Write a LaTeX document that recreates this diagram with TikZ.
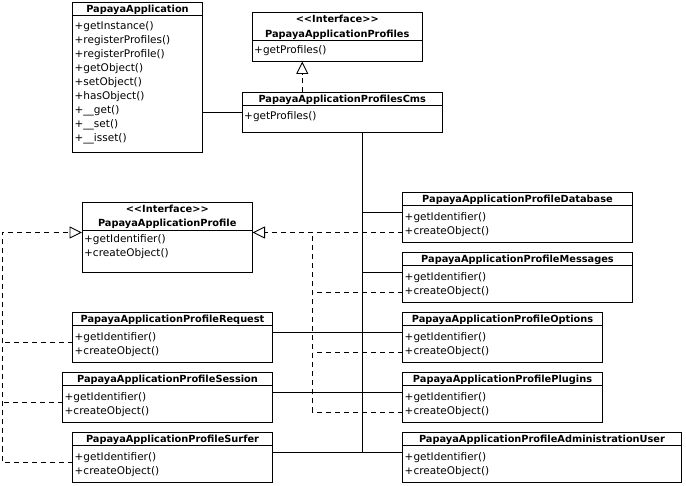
\documentclass[tikz,border=0pt]{standalone}
\usepackage{fontspec}
\setmainfont{DejaVu Sans}
\usetikzlibrary{arrows.meta, positioning, calc}

\begin{document}
\begin{tikzpicture}[
    x=1pt, y=-1pt,
    font=\fontsize{10.5}{14}\selectfont,
    cls/.style={draw=black, line width=0.9pt, anchor=north west, inner sep=0pt, outer sep=0pt},
    title/.style={font=\bfseries\fontsize{9.8}{12}\selectfont, anchor=base, inner sep=0pt},
    ops/.style={anchor=north west, align=left, inner sep=0pt},
    divider/.style={line width=0.9pt},
    assoc/.style={line width=0.9pt},
    realize/.style={line width=0.9pt, dash pattern=on 5pt off 4pt},
    impl/.style={realize, -{Triangle[open, length=12.5pt, width=12pt, line width=0.9pt]}}
  ]
    \useasboundingbox (0,0) rectangle (686,486);

    % Top classes
    \node[cls, minimum width=130pt, minimum height=150pt] (app) at (72.5, 2.5) {};
    \draw[divider] ([yshift=-12.5pt]app.north west) -- ([yshift=-12.5pt]app.north east);
    \node[title] (app-t) at ([yshift=-10pt]app.north) {PapayaApplication};
    \node[ops] (app-o) at ([xshift=2pt, yshift=-19pt]app.north west) {+getInstance()\\+registerProfiles()\\+registerProfile()\\+getObject()\\+setObject()\\+hasObject()\\+\_\_get()\\+\_\_set()\\+\_\_isset()};

    \node[cls, minimum width=170.5pt, minimum height=49pt] (prof) at (252, 12.5) {};
    \draw[divider] ([yshift=-28pt]prof.north west) -- ([yshift=-28pt]prof.north east);
    \node[title] (prof-s) at ([yshift=-10pt]prof.north) {<\kern0pt<Interface>\kern0pt>};
    \node[title] (prof-t) at ([yshift=-25pt]prof.north) {PapayaApplicationProfiles};
    \node[ops] (prof-o) at ([xshift=2pt, yshift=-33pt]prof.north west) {+getProfiles()};

    \node[cls, minimum width=200.5pt, minimum height=40pt] (cms) at (242, 92.5) {};
    \draw[divider] ([yshift=-12.5pt]cms.north west) -- ([yshift=-12.5pt]cms.north east);
    \node[title] (cms-t) at ([yshift=-10pt]cms.north) {PapayaApplicationProfilesCms};
    \node[ops] (cms-o) at ([xshift=2pt, yshift=-19pt]cms.north west) {+getProfiles()};

    % Profile interface
    \node[cls, minimum width=170.5pt, minimum height=69.5pt] (iprof) at (82, 202.5) {};
    \draw[divider] ([yshift=-27.5pt]iprof.north west) -- ([yshift=-27.5pt]iprof.north east);
    \node[title] (iprof-s) at ([yshift=-10pt]iprof.north) {<\kern0pt<Interface>\kern0pt>};
    \node[title] (iprof-t) at ([yshift=-24.5pt]iprof.north) {PapayaApplicationProfile};
    \node[ops] (iprof-o) at ([xshift=2pt, yshift=-32pt]iprof.north west) {+getIdentifier()\\+createObject()};

    % Right column profiles
    \node[cls, minimum width=230pt, minimum height=50pt] (db) at (402.5, 192.5) {};
    \draw[divider] ([yshift=-12.5pt]db.north west) -- ([yshift=-12.5pt]db.north east);
    \node[title] (db-t) at ([yshift=-10pt]db.north) {PapayaApplicationProfileDatabase};
    \node[ops] (db-o) at ([xshift=2pt, yshift=-19.5pt]db.north west) {+getIdentifier()\\+createObject()};

    \node[cls, minimum width=230pt, minimum height=50pt] (msg) at (402.5, 252.5) {};
    \draw[divider] ([yshift=-12.5pt]msg.north west) -- ([yshift=-12.5pt]msg.north east);
    \node[title] (msg-t) at ([yshift=-10pt]msg.north) {PapayaApplicationProfileMessages};
    \node[ops] (msg-o) at ([xshift=2pt, yshift=-19.5pt]msg.north west) {+getIdentifier()\\+createObject()};

    \node[cls, minimum width=200pt, minimum height=50pt] (opt) at (402.5, 312.5) {};
    \draw[divider] ([yshift=-12.5pt]opt.north west) -- ([yshift=-12.5pt]opt.north east);
    \node[title] (opt-t) at ([yshift=-10pt]opt.north) {PapayaApplicationProfileOptions};
    \node[ops] (opt-o) at ([xshift=2pt, yshift=-19.5pt]opt.north west) {+getIdentifier()\\+createObject()};

    \node[cls, minimum width=200pt, minimum height=50pt] (plg) at (402.5, 372.5) {};
    \draw[divider] ([yshift=-12.5pt]plg.north west) -- ([yshift=-12.5pt]plg.north east);
    \node[title] (plg-t) at ([yshift=-10pt]plg.north) {PapayaApplicationProfilePlugins};
    \node[ops] (plg-o) at ([xshift=2pt, yshift=-19.5pt]plg.north west) {+getIdentifier()\\+createObject()};

    \node[cls, minimum width=279pt, minimum height=50pt] (adm) at (402.5, 432.5) {};
    \draw[divider] ([yshift=-12.5pt]adm.north west) -- ([yshift=-12.5pt]adm.north east);
    \node[title] (adm-t) at ([yshift=-10pt]adm.north) {PapayaApplicationProfileAdministrationUser};
    \node[ops] (adm-o) at ([xshift=2pt, yshift=-19.5pt]adm.north west) {+getIdentifier()\\+createObject()};

    % Left column profiles
    \node[cls, minimum width=200pt, minimum height=50pt] (req) at (72.5, 312.5) {};
    \draw[divider] ([yshift=-12.5pt]req.north west) -- ([yshift=-12.5pt]req.north east);
    \node[title] (req-t) at ([yshift=-10pt]req.north) {PapayaApplicationProfileRequest};
    \node[ops] (req-o) at ([xshift=2pt, yshift=-19.5pt]req.north west) {+getIdentifier()\\+createObject()};

    \node[cls, minimum width=210pt, minimum height=50pt] (ses) at (62.5, 372.5) {};
    \draw[divider] ([yshift=-12.5pt]ses.north west) -- ([yshift=-12.5pt]ses.north east);
    \node[title] (ses-t) at ([yshift=-10pt]ses.north) {PapayaApplicationProfileSession};
    \node[ops] (ses-o) at ([xshift=2pt, yshift=-19.5pt]ses.north west) {+getIdentifier()\\+createObject()};

    \node[cls, minimum width=200pt, minimum height=50pt] (srf) at (72.5, 432.5) {};
    \draw[divider] ([yshift=-12.5pt]srf.north west) -- ([yshift=-12.5pt]srf.north east);
    \node[title] (srf-t) at ([yshift=-10pt]srf.north) {PapayaApplicationProfileSurfer};
    \node[ops] (srf-o) at ([xshift=2pt, yshift=-19.5pt]srf.north west) {+getIdentifier()\\+createObject()};

    % Associations
    \coordinate (bus) at (362.5, 452.5);
    \draw[assoc] ([yshift=-20pt]cms.north west -| app.east) -- ([yshift=-20pt]cms.north west);
    \draw[assoc] (cms.south -| bus) -- (bus);
    \draw[assoc] ([yshift=-20pt]db.north west -| bus) -- ([yshift=-20pt]db.north west);
    \draw[assoc] ([yshift=-20pt]msg.north west -| bus) -- ([yshift=-20pt]msg.north west);
    \draw[assoc] ([yshift=-20pt]req.north east) -- ([yshift=-20pt]opt.north west);
    \draw[assoc] ([yshift=-20pt]ses.north east) -- ([yshift=-20pt]plg.north west);
    \draw[assoc] ([yshift=-20pt]srf.north east) -- ([yshift=-20pt]adm.north west);

    % Realizations
    \coordinate (lbus) at (2.5, 232.5);
    \coordinate (rbus) at (312.5, 232.5);
    \draw[impl] ([xshift=-40pt]cms.north) -- ([xshift=-40pt]cms.north |- prof.south);
    \draw[impl] ([yshift=-30pt]srf.north west) -| (lbus) -- (lbus -| iprof.west);
    \draw[realize] ([yshift=-30pt]req.north west) -- ([yshift=-30pt]req.north west -| lbus);
    \draw[realize] ([yshift=-30pt]ses.north west) -- ([yshift=-30pt]ses.north west -| lbus);
    \draw[impl] ([yshift=-40pt]db.north west) -- (rbus -| iprof.east);
    \draw[realize] ([yshift=-40pt]plg.north west) -| (rbus);
    \draw[realize] ([yshift=-40pt]msg.north west) -- ([yshift=-40pt]msg.north west -| rbus);
    \draw[realize] ([yshift=-40pt]opt.north west) -- ([yshift=-40pt]opt.north west -| rbus);
  \end{tikzpicture}
\end{document}
